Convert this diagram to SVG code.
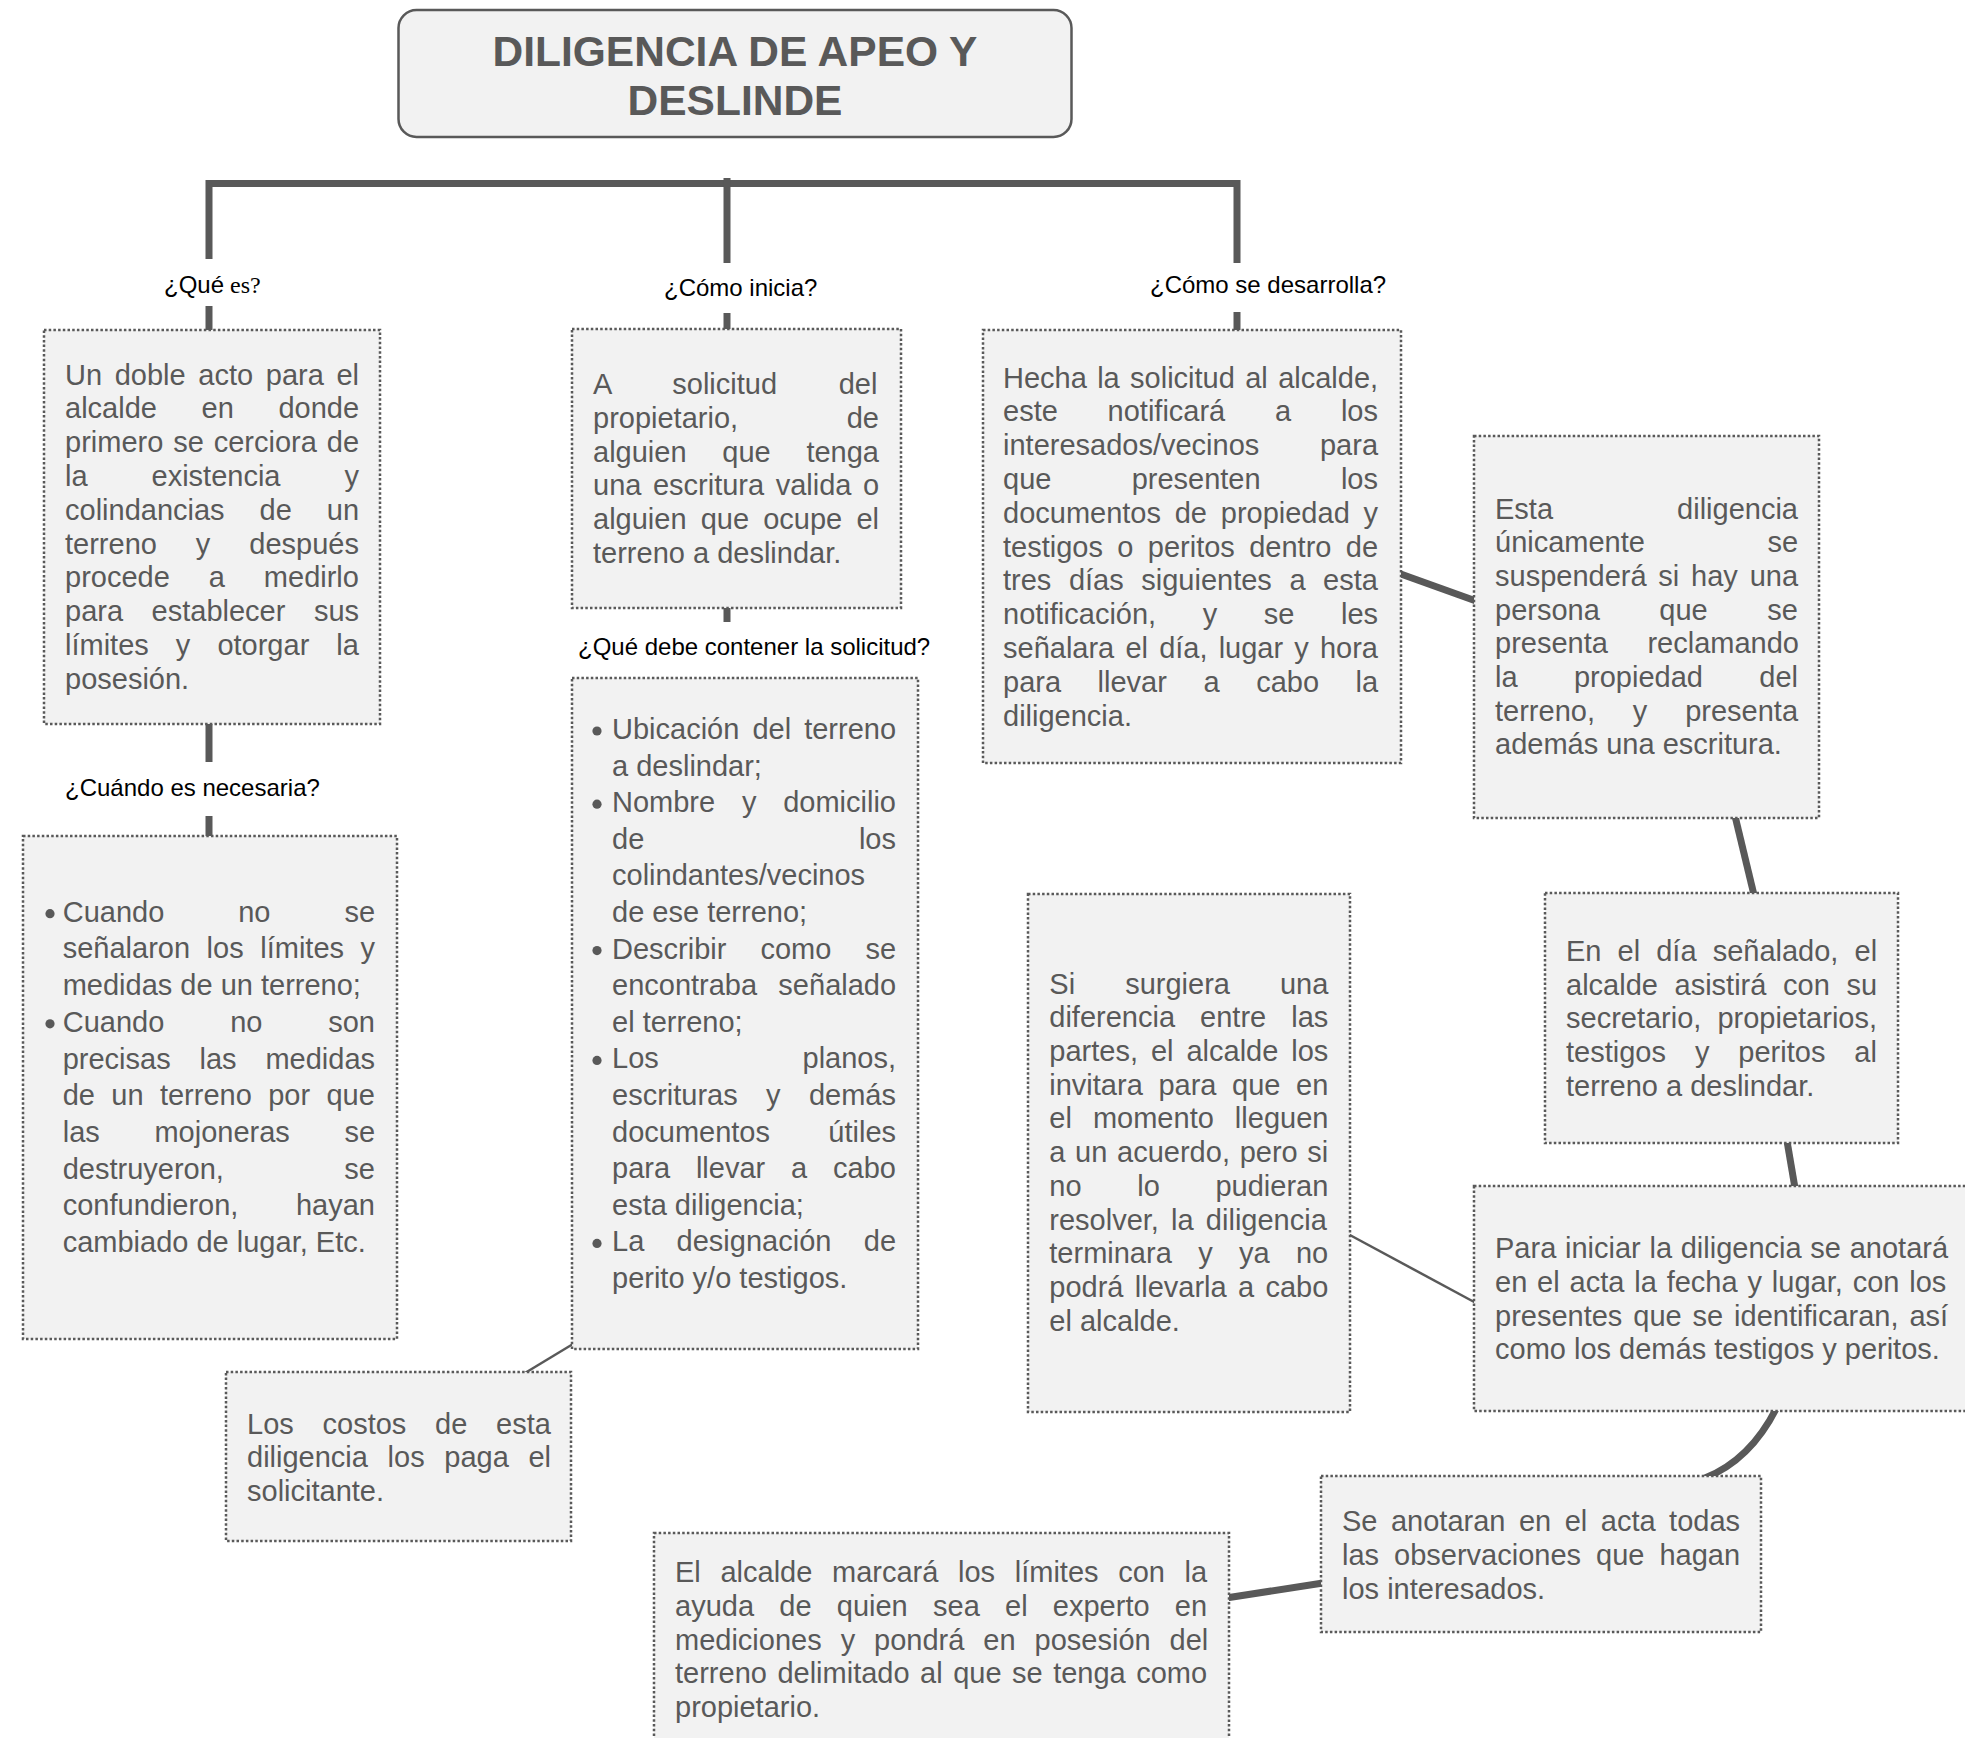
<svg xmlns="http://www.w3.org/2000/svg" width="1965" height="1738" viewBox="0 0 1965 1738">
<style>
.box{fill:#f2f2f2;stroke:#595959;stroke-width:2.5;stroke-dasharray:2.5 2.2}
.title{fill:#f2f2f2;stroke:#595959;stroke-width:2.5}
.t{font-family:"Liberation Sans",Arial,sans-serif;font-size:29px;fill:#595959}
.tt{font-family:"Liberation Sans",Arial,sans-serif;font-size:42.5px;font-weight:bold;fill:#595959}
.lbl{font-family:"Liberation Sans",Arial,sans-serif;font-size:24px;fill:#000}
.thick{stroke:#595959;stroke-width:7;fill:none}
.thin{stroke:#595959;stroke-width:2.5;fill:none}
.dot{fill:#595959}
</style>
<rect width="1965" height="1738" fill="#fff"/>
<g id="connectors">
<path class="thick" d="M209,259 V183.5 H1237 V263"/>
<path class="thick" d="M727,178 V263"/>
<path class="thick" d="M209,306 V332"/>
<path class="thick" d="M727,313 V331"/>
<path class="thick" d="M1237,312 V332"/>
<path class="thick" d="M209,722 V762"/>
<path class="thick" d="M209,816 V838"/>
<path class="thick" d="M727,606 V622"/>
<path class="thick" d="M1398,573 L1476,601"/>
<path class="thick" d="M1735,816 L1754,895"/>
<path class="thick" d="M1787,1141 L1795,1188"/>
<path class="thick" d="M1776,1409 Q1750,1460 1705,1478"/>
<path class="thick" d="M1226,1598 L1323,1583"/>
<path class="thin" d="M1348,1234 L1476,1303"/>
<path class="thin" d="M573,1344 L525,1373"/>
</g>
<g id="title">
<rect class="title" x="398.5" y="10" width="673" height="127" rx="18"/>
<text class="tt" x="735" y="66" text-anchor="middle">DILIGENCIA DE APEO Y</text>
<text class="tt" x="735" y="115" text-anchor="middle">DESLINDE</text>
</g>
<g id="lbl-que-es"><text class="lbl" x="164" y="293">¿Qué<tspan font-family="'Liberation Serif',serif"> es?</tspan></text></g>
<g id="lbl-como-inicia"><text class="lbl" x="664" y="296">¿Cómo inicia?</text></g>
<g id="lbl-como-desarrolla"><text class="lbl" x="1150" y="293">¿Cómo se desarrolla?</text></g>
<g id="lbl-cuando"><text class="lbl" x="65" y="796">¿Cuándo es necesaria?</text></g>
<g id="lbl-debe-contener"><text class="lbl" x="578" y="655">¿Qué debe contener la solicitud?</text></g>
<g id="node-que-es">
<rect class="box" x="44" y="330" width="336" height="394"/>
<text class="t" x="65" y="384.5" word-spacing="4.59">Un doble acto para el</text>
<text class="t" x="65" y="418.3" word-spacing="36.6">alcalde en donde</text>
<text class="t" x="65" y="452.1" word-spacing="1.84">primero se cerciora de</text>
<text class="t" x="65" y="485.9" word-spacing="55.9">la existencia y</text>
<text class="t" x="65" y="519.7" word-spacing="26.9">colindancias de un</text>
<text class="t" x="65" y="553.5" word-spacing="30.9">terreno y después</text>
<text class="t" x="65" y="587.3" word-spacing="30.9">procede a medirlo</text>
<text class="t" x="65" y="621.1" word-spacing="20.5">para establecer sus</text>
<text class="t" x="65" y="654.9" word-spacing="19.0">límites y otorgar la</text>
<text class="t" x="65" y="688.7">posesión.</text>
</g>
<g id="node-como-inicia">
<rect class="box" x="572" y="329" width="329" height="279"/>
<text class="t" x="593" y="394" word-spacing="53.5">A solicitud del</text>
<text class="t" x="593" y="427.8" word-spacing="100.6">propietario, de</text>
<text class="t" x="593" y="461.6" word-spacing="27.7">alguien que tenga</text>
<text class="t" x="593" y="495.4" word-spacing="3.47">una escritura valida o</text>
<text class="t" x="593" y="529.2" word-spacing="6.1">alguien que ocupe el</text>
<text class="t" x="593" y="563">terreno a deslindar.</text>
</g>
<g id="node-como-desarrolla">
<rect class="box" x="983" y="330" width="418" height="433"/>
<text class="t" x="1003" y="387.5" word-spacing="2.29">Hecha la solicitud al alcalde,</text>
<text class="t" x="1003" y="421.3" word-spacing="41.7">este notificará a los</text>
<text class="t" x="1003" y="455.1" word-spacing="52.6">interesados/vecinos para</text>
<text class="t" x="1003" y="488.9" word-spacing="72.2">que presenten los</text>
<text class="t" x="1003" y="522.7" word-spacing="5.7">documentos de propiedad y</text>
<text class="t" x="1003" y="556.5" word-spacing="6.3">testigos o peritos dentro de</text>
<text class="t" x="1003" y="590.3" word-spacing="9.5">tres días siguientes a esta</text>
<text class="t" x="1003" y="624.1" word-spacing="38.5">notificación, y se les</text>
<text class="t" x="1003" y="657.9" word-spacing="3.1">señalara el día, lugar y hora</text>
<text class="t" x="1003" y="691.7" word-spacing="28.5">para llevar a cabo la</text>
<text class="t" x="1003" y="725.5">diligencia.</text>
</g>
<g id="node-suspension">
<rect class="box" x="1474" y="436" width="345" height="382"/>
<text class="t" x="1495" y="518.5" word-spacing="116">Esta diligencia</text>
<text class="t" x="1495" y="552.2" word-spacing="114.4">únicamente se</text>
<text class="t" x="1495" y="585.9" word-spacing="3.74">suspenderá si hay una</text>
<text class="t" x="1495" y="619.6" word-spacing="51.5">persona que se</text>
<text class="t" x="1495" y="653.3" word-spacing="31.5">presenta reclamando</text>
<text class="t" x="1495" y="687" word-spacing="48.3">la propiedad del</text>
<text class="t" x="1495" y="720.7" word-spacing="29.8">terreno, y presenta</text>
<text class="t" x="1495" y="754.4">además una escritura.</text>
</g>
<g id="node-cuando">
<rect class="box" x="23" y="836" width="374" height="503"/>
<circle class="dot" cx="50" cy="913.7" r="4.6"/>
<circle class="dot" cx="50" cy="1023.8" r="4.6"/>
<text class="t" x="62.7" y="921.7" word-spacing="65.9">Cuando no se</text>
<text class="t" x="62.7" y="958.4" word-spacing="8.5">señalaron los límites y</text>
<text class="t" x="62.7" y="995.1">medidas de un terreno;</text>
<text class="t" x="62.7" y="1031.8" word-spacing="57.8">Cuando no son</text>
<text class="t" x="62.7" y="1068.5" word-spacing="20.8">precisas las medidas</text>
<text class="t" x="62.7" y="1105.2" word-spacing="8.3">de un terreno por que</text>
<text class="t" x="62.7" y="1141.9" word-spacing="46.6">las mojoneras se</text>
<text class="t" x="62.7" y="1178.6" word-spacing="112.4">destruyeron, se</text>
<text class="t" x="62.7" y="1215.3" word-spacing="49.5">confundieron, hayan</text>
<text class="t" x="62.7" y="1252">cambiado de lugar, Etc.</text>
</g>
<g id="node-contenido">
<rect class="box" x="572" y="678" width="346" height="671"/>
<circle class="dot" cx="597" cy="731" r="4.6"/>
<circle class="dot" cx="597" cy="804.2" r="4.6"/>
<circle class="dot" cx="597" cy="950.6" r="4.6"/>
<circle class="dot" cx="597" cy="1060.4" r="4.6"/>
<circle class="dot" cx="597" cy="1243.4" r="4.6"/>
<text class="t" x="612" y="739" word-spacing="5.0">Ubicación del terreno</text>
<text class="t" x="612" y="775.6">a deslindar;</text>
<text class="t" x="612" y="812.2" word-spacing="18.7">Nombre y domicilio</text>
<text class="t" x="612" y="848.8" word-spacing="206.6">de los</text>
<text class="t" x="612" y="885.4">colindantes/vecinos</text>
<text class="t" x="612" y="922">de ese terreno;</text>
<text class="t" x="612" y="958.6" word-spacing="26">Describir como se</text>
<text class="t" x="612" y="995.2" word-spacing="13.2">encontraba señalado</text>
<text class="t" x="612" y="1031.8">el terreno;</text>
<text class="t" x="612" y="1068.4" word-spacing="135.7">Los planos,</text>
<text class="t" x="612" y="1105" word-spacing="20.3">escrituras y demás</text>
<text class="t" x="612" y="1141.6" word-spacing="50.3">documentos útiles</text>
<text class="t" x="612" y="1178.2" word-spacing="17.8">para llevar a cabo</text>
<text class="t" x="612" y="1214.8">esta diligencia;</text>
<text class="t" x="612" y="1251.4" word-spacing="24.3">La designación de</text>
<text class="t" x="612" y="1288">perito y/o testigos.</text>
</g>
<g id="node-costos">
<rect class="box" x="226" y="1372" width="345" height="169"/>
<text class="t" x="247" y="1433.5" word-spacing="20.7">Los costos de esta</text>
<text class="t" x="247" y="1467.3" word-spacing="11.6">diligencia los paga el</text>
<text class="t" x="247" y="1501.1">solicitante.</text>
</g>
<g id="node-diferencia">
<rect class="box" x="1028" y="894" width="322" height="518"/>
<text class="t" x="1049.3" y="993.6" word-spacing="42">Si surgiera una</text>
<text class="t" x="1049.3" y="1027.3" word-spacing="17">diferencia entre las</text>
<text class="t" x="1049.3" y="1061" word-spacing="4.9">partes, el alcalde los</text>
<text class="t" x="1049.3" y="1094.7" word-spacing="7.57">invitara para que en</text>
<text class="t" x="1049.3" y="1128.4" word-spacing="13">el momento lleguen</text>
<text class="t" x="1049.3" y="1162.1" word-spacing="1.64">a un acuerdo, pero si</text>
<text class="t" x="1049.3" y="1195.8" word-spacing="47.6">no lo pudieran</text>
<text class="t" x="1049.3" y="1229.5" word-spacing="4.14">resolver, la diligencia</text>
<text class="t" x="1049.3" y="1263.2" word-spacing="18.3">terminara y ya no</text>
<text class="t" x="1049.3" y="1296.9" word-spacing="3.27">podrá llevarla a cabo</text>
<text class="t" x="1049.3" y="1330.6">el alcalde.</text>
</g>
<g id="node-dia-senalado">
<rect class="box" x="1545" y="893" width="353" height="250"/>
<text class="t" x="1566" y="961" word-spacing="8.04">En el día señalado, el</text>
<text class="t" x="1566" y="994.7" word-spacing="8.57">alcalde asistirá con su</text>
<text class="t" x="1566" y="1028.4" word-spacing="8.0">secretario, propietarios,</text>
<text class="t" x="1566" y="1062.1" word-spacing="20.9">testigos y peritos al</text>
<text class="t" x="1566" y="1095.8">terreno a deslindar.</text>
</g>
<g id="node-iniciar">
<rect class="box" x="1474" y="1186" width="500" height="225"/>
<text class="t" x="1495" y="1258" word-spacing="0.66">Para iniciar la diligencia se anotará</text>
<text class="t" x="1495" y="1291.8" word-spacing="1.81">en el acta la fecha y lugar, con los</text>
<text class="t" x="1495" y="1325.6" word-spacing="2.84">presentes que se identificaran, así</text>
<text class="t" x="1495" y="1359.4">como los demás testigos y peritos.</text>
</g>
<g id="node-observaciones">
<rect class="box" x="1321" y="1476" width="440" height="156"/>
<text class="t" x="1342" y="1531" word-spacing="5.44">Se anotaran en el acta todas</text>
<text class="t" x="1342" y="1564.8" word-spacing="6.94">las observaciones que hagan</text>
<text class="t" x="1342" y="1598.6">los interesados.</text>
</g>
<g id="node-limites">
<rect class="box" x="654" y="1533" width="575" height="215"/>
<text class="t" x="675" y="1582" word-spacing="11.6">El alcalde marcará los límites con la</text>
<text class="t" x="675" y="1615.8" word-spacing="17.2">ayuda de quien sea el experto en</text>
<text class="t" x="675" y="1649.6" word-spacing="10.9">mediciones y pondrá en posesión del</text>
<text class="t" x="675" y="1683.4" word-spacing="2.44">terreno delimitado al que se tenga como</text>
<text class="t" x="675" y="1717.2">propietario.</text>
</g>
</svg>
